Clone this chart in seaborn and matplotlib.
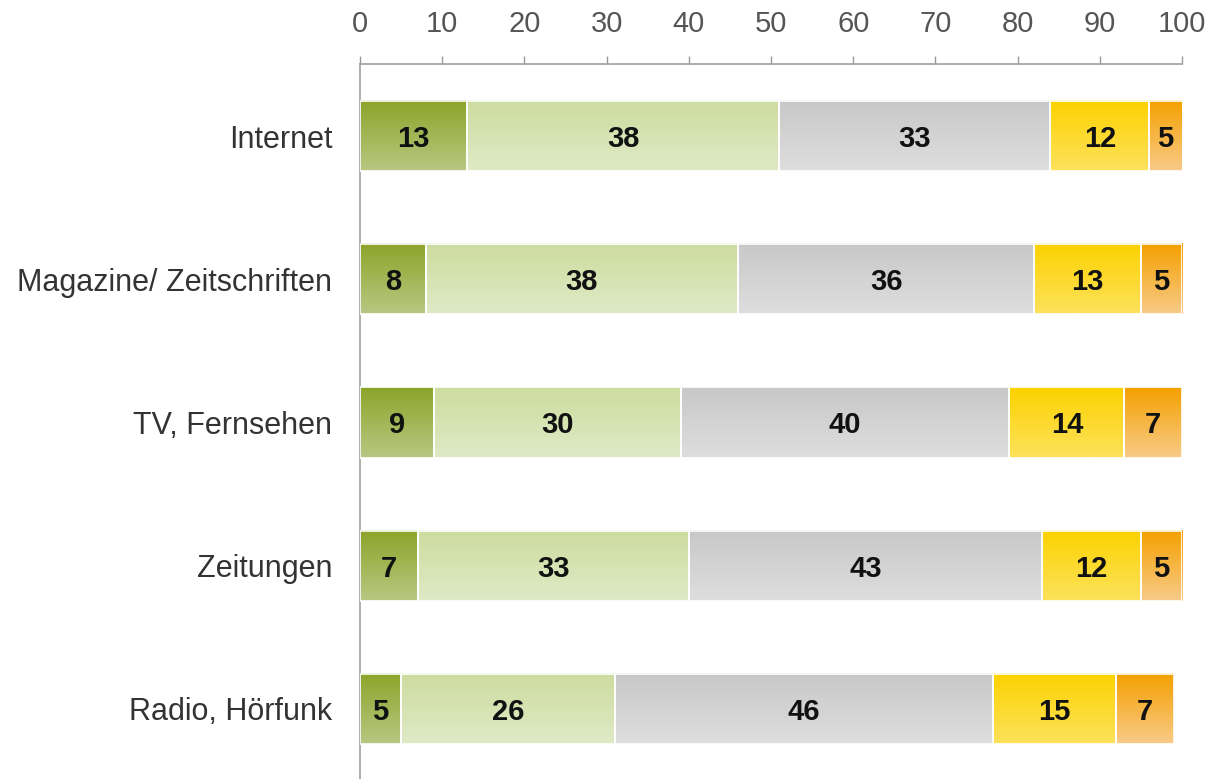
import numpy as np
import pandas as pd
import matplotlib
matplotlib.use("Agg")
import matplotlib.pyplot as plt
import seaborn as sns
from matplotlib.colors import to_rgb

# Media categories (top to bottom)
categories = ["Internet", "Magazine/ Zeitschriften", "TV, Fernsehen", "Zeitungen", "Radio, Hörfunk"]

# Shares per answer group, in percent
share_1 = [13, 8, 9, 7, 5]
share_2 = [38, 38, 30, 33, 26]
share_3 = [33, 36, 40, 43, 46]
share_4 = [12, 13, 14, 12, 15]
share_5 = [5, 5, 7, 5, 7]

x_ticks = [0, 10, 20, 30, 40, 50, 60, 70, 80, 90, 100]

series = [share_1, share_2, share_3, share_4, share_5]
# (top colour, bottom colour) of each segment's vertical gradient
gradients = [
    ("#8da42a", "#b8c882"),
    ("#cddc9f", "#dfeac6"),
    ("#c8c8c8", "#dedede"),
    ("#fcd200", "#fde25c"),
    ("#f4a000", "#f9cb88"),
]

sns.set_theme(style="white")
plt.rcParams["font.family"] = ["Liberation Sans", "DejaVu Sans"]

fig = plt.figure(figsize=(12.11, 7.79), dpi=100)
ax = fig.add_axes([360 / 1211, 0.0, (1182 - 360) / 1211, 1 - 64 / 779])

bar_h = 0.49
left = np.zeros(len(categories))
for vals, (c_top, c_bot) in zip(series, gradients):
    vals = np.asarray(vals, dtype=float)
    right = left + vals
    df = pd.DataFrame({"cat": categories, "end": right})
    n_before = len(ax.patches)
    sns.barplot(data=df, x="end", y="cat", order=categories, orient="h",
                color=c_top, width=bar_h, ax=ax, zorder=3)
    new_patches = ax.patches[n_before:]
    grad = np.linspace(0, 1, 64)[:, None, None]
    img = (1 - grad) * np.array(to_rgb(c_top)) + grad * np.array(to_rgb(c_bot))
    for i, p in enumerate(new_patches):
        p.set_x(left[i])
        p.set_width(vals[i])
        p.set_facecolor("none")
        p.set_edgecolor("white")
        p.set_linewidth(1.2)
        y0 = p.get_y()
        h = p.get_height()
        ax.imshow(img, extent=(left[i], right[i], y0 + h, y0), origin="upper",
                  aspect="auto", zorder=2, interpolation="bilinear")
        # value label centred on the visible part of the segment
        xc = (left[i] + min(right[i], 100)) / 2
        ax.text(xc, y0 + h / 2, f"{int(vals[i])}", ha="center", va="center_baseline",
                fontsize=21, fontweight="bold", color="#111111", zorder=4)
    left = right

ax.set_xlim(0, 100)
ax.set_ylim(4.49, -0.503)
ax.set_xlabel("")
ax.set_ylabel("")

ax.xaxis.tick_top()
ax.set_xticks(x_ticks)
ax.set_xticklabels([str(t) for t in x_ticks])
ax.tick_params(axis="x", top=True, bottom=False, direction="out", length=6,
               width=1, color="#999999", pad=13, labelsize=21, labelcolor="#555555")
ax.tick_params(axis="y", left=False, pad=14, labelsize=22, labelcolor="#333333")

for side in ["right", "bottom"]:
    ax.spines[side].set_visible(False)
for side in ["top", "left"]:
    ax.spines[side].set_visible(True)
    ax.spines[side].set_color("#a0a0a0")
    ax.spines[side].set_linewidth(1.2)

fig.savefig("out.png", dpi=100, facecolor="white")
